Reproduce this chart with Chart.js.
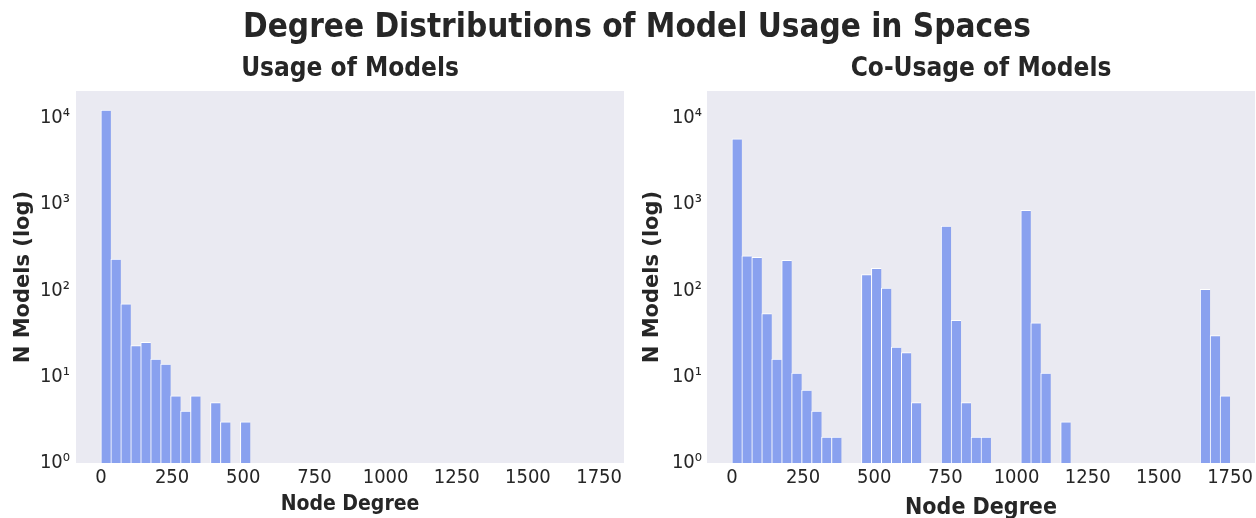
<!DOCTYPE html>
<html>
<head>
<meta charset="utf-8">
<script src="https://cdn.jsdelivr.net/npm/chart.js@4.4.1/dist/chart.umd.min.js"></script>
<style>
  html, body { margin: 0; padding: 0; background: #fff; }
  body { width: 1256px; height: 518px; overflow: hidden; position: relative; }
  #suptitle {
    position: absolute; left: 0; top: 6px; width: 1256px; box-sizing: border-box;
    padding-left: 18px; text-align: center;
    font-family: "DejaVu Sans Condensed", "DejaVu Sans", sans-serif;
    font-weight: bold; font-size: 33px; line-height: 40px; color: #262626;
  }
  .panel { position: absolute; top: 0; width: 628px; height: 540px; }
</style>
</head>
<body>
<div class="panel" style="left:0"><canvas id="usageChart"></canvas></div>
<div class="panel" style="left:628px"><canvas id="coUsageChart"></canvas></div>
<div id="suptitle">Degree Distributions of Model Usage in Spaces</div>
<script>
// histogram bins (lower edges), width 35
const binStarts = [
  0, 35, 70, 105, 140, 175, 210, 245, 280, 315,
  350, 385, 420, 455, 490, 525, 560, 595, 630, 665,
  700, 735, 770, 805, 840, 875, 910, 945, 980, 1015,
  1050, 1085, 1120, 1155, 1190, 1225, 1260, 1295, 1330, 1365,
  1400, 1435, 1470, 1505, 1540, 1575, 1610, 1645, 1680, 1715
];
const binWidth = 35;

const usageCounts = [
  12300, 231, 70, 23, 25, 16, 14, 6, 4, 6,
  0, 5, 3, 0, 3, 0, 0, 0, 0, 0,
  0, 0, 0, 0, 0, 0, 0, 0, 0, 0,
  0, 0, 0, 0, 0, 0, 0, 0, 0, 0,
  0, 0, 0, 0, 0, 0, 0, 0, 0, 0
];

const coUsageCounts = [
  5680, 252, 242, 54, 16, 223, 11, 7, 4, 2,
  2, 0, 0, 152, 180, 106, 22, 19, 5, 0,
  0, 557, 45, 5, 2, 2, 0, 0, 0, 848,
  42, 11, 0, 3, 0, 0, 0, 0, 0, 0,
  0, 0, 0, 0, 0, 0, 0, 103, 30, 6
];

const xTicks = [0, 250, 500, 750, 1000, 1250, 1500, 1750];
const yTicks = [1, 10, 100, 1000, 10000];
const yTickLabels = ['10⁰', '10¹', '10²', '10³', '10⁴'];

const textColor = '#262626';
const barColor = '#89a1ef';
const condensed = '"DejaVu Sans Condensed", "DejaVu Sans", sans-serif';

// grey plot background like seaborn darkgrid (without the grid)
const plotBg = {
    id: 'plotBg',
    beforeDraw(chart) {
        const a = chart.chartArea;
        const ctx = chart.ctx;
        ctx.save();
        ctx.fillStyle = '#eaeaf2';
        ctx.fillRect(a.left, a.top, a.right - a.left, a.bottom - a.top);
        ctx.restore();
    }
};

function makeChart(canvasId, title, counts, o) {
    const points = binStarts.map((s, i) => ({
        x: s + binWidth / 2,
        y: counts[i] > 0 ? counts[i] : null
    }));

    const ctx = document.getElementById(canvasId).getContext('2d');
    return new Chart(ctx, {
        type: 'bar',
        data: {
            datasets: [{
                data: points,
                backgroundColor: barColor,
                borderColor: '#ffffff',
                borderWidth: { top: 1, left: 1, right: 0, bottom: 0 },
                borderSkipped: 'start',
                barPercentage: 1,
                categoryPercentage: 1
            }]
        },
        options: {
            responsive: true,
            maintainAspectRatio: false,
            animation: false,
            layout: { padding: { left: 0, right: o.padRight, top: 0, bottom: 0 } },
            plugins: {
                legend: { display: false },
                tooltip: { enabled: false },
                title: {
                    display: true,
                    text: title,
                    fullSize: false,
                    color: textColor,
                    font: { family: condensed, size: 26, weight: 'bold', lineHeight: 1.2 },
                    padding: { top: 53.4, bottom: 6.4 }
                }
            },
            scales: {
                x: {
                    type: 'linear',
                    min: -87.5,
                    max: 1837.5,
                    offset: false,
                    bounds: 'data',
                    grid: { display: false, drawTicks: false },
                    border: { display: false },
                    afterBuildTicks: axis => { axis.ticks = xTicks.map(v => ({ value: v })); },
                    afterFit: axis => { axis.height = 77; },
                    ticks: {
                        color: textColor,
                        padding: 3,
                        maxRotation: 0,
                        font: { family: condensed, size: 20, lineHeight: 1.2 },
                        callback: v => String(v)
                    },
                    title: {
                        display: true,
                        text: 'Node Degree',
                        color: textColor,
                        font: { family: condensed, size: o.xTitleSize, weight: 'bold', lineHeight: 1.2 },
                        padding: { top: 0, bottom: o.xTitlePad }
                    }
                },
                y: {
                    type: 'logarithmic',
                    min: 1,
                    max: 20400,
                    bounds: 'data',
                    grid: { display: false, drawTicks: false },
                    border: { display: false },
                    afterBuildTicks: axis => { axis.ticks = yTicks.map(v => ({ value: v })); },
                    afterFit: axis => { axis.width = o.yWidth; },
                    ticks: {
                        color: textColor,
                        padding: o.yTickPad,
                        font: { family: condensed, size: 20, lineHeight: 1.2 },
                        callback: v => yTickLabels[yTicks.indexOf(v)]
                    },
                    title: {
                        display: true,
                        text: 'N Models (log)',
                        color: textColor,
                        font: { family: '"DejaVu Sans", sans-serif', size: 21, weight: 'bold', lineHeight: 1.2 },
                        padding: { top: o.yTitlePad, bottom: 0 }
                    }
                }
            }
        },
        plugins: [plotBg]
    });
}

makeChart('usageChart', 'Usage of Models', usageCounts, {
    padRight: 4, yWidth: 76, yTickPad: 6, yTitlePad: 11.4, xTitleSize: 21, xTitlePad: 22.4
});
makeChart('coUsageChart', 'Co-Usage of Models', coUsageCounts, {
    padRight: 1, yWidth: 79, yTickPad: 5, yTitlePad: 12.4, xTitleSize: 23, xTitlePad: 18.2
});
</script>
</body>
</html>
